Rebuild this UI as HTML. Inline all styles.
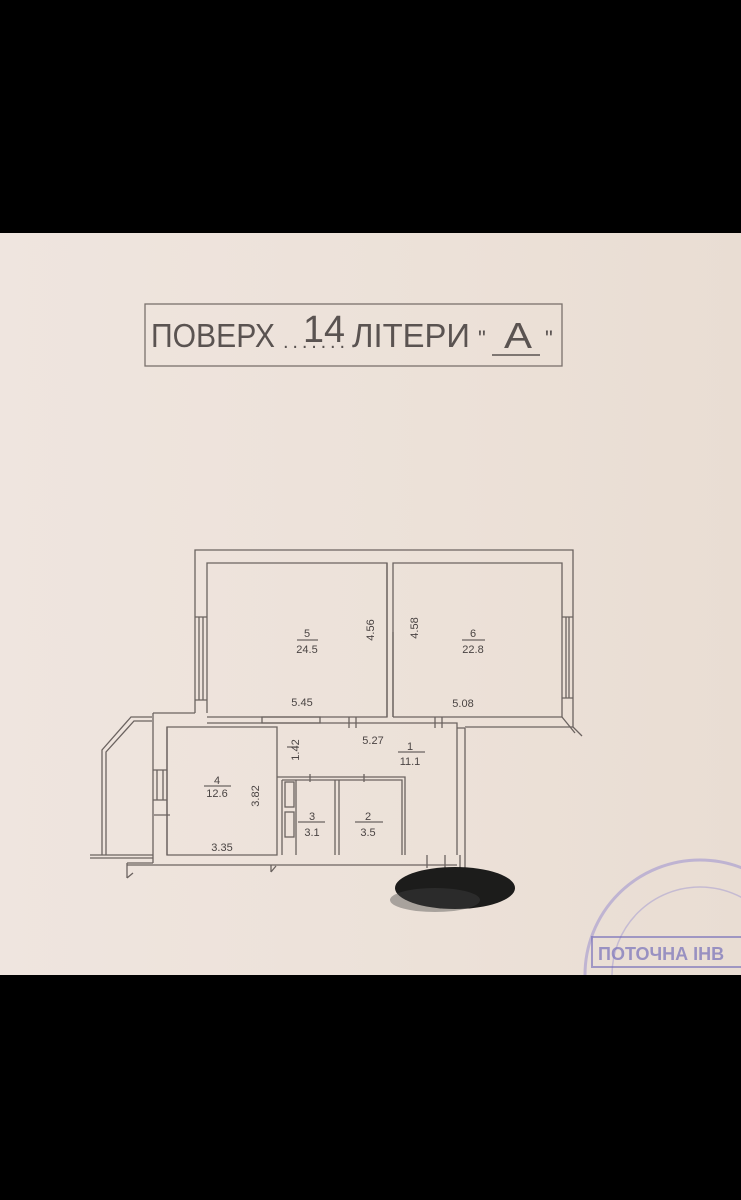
<!DOCTYPE html>
<html><head><meta charset="utf-8"><style>
html,body{margin:0;padding:0;background:#000;}
body{width:741px;height:1200px;position:relative;overflow:hidden;font-family:"Liberation Sans",sans-serif;}
#paper{position:absolute;left:0;top:233px;width:741px;height:742px;background:linear-gradient(90deg,#efe5df,#ece1d8 60%,#e9ddd3);}
svg{position:absolute;left:0;top:0;}
</style></head><body>
<div id="paper"></div>
<svg width="741" height="1200" viewBox="0 0 741 1200">
<g fill="none" stroke="#6b6360" stroke-width="1.3">
<rect x="145" y="304" width="417" height="62" stroke="#7a716c"/>
<path d="M195 713 V550 H573 V727 L582 736"/>
<path d="M207 713 V563 H387 V717 H207"/>
<path d="M393 717 V563 H562 V717 H393"/>
<path d="M387 563 V717 M393 632 V717"/>
<path d="M207 723 H457 V855 M167 727 H277 V855 H167 Z"/>
<path d="M465 728 V868 M457 728 H465 M573 727 H465"/>
<path d="M562 717 L575 733"/>
<path d="M153 713 H195 M153 713 V863 M127 865 H457 M127 863 V878 M127 878 L133 873 M153 863 H127"/>
<path d="M167 727 V855"/>
<path d="M152 717 H131 L102 750 V855 M152 721 H134 L106 752 V855 M90 855 H153 M90 858 H153"/>
<path d="M277 777 H405 V855 M282 780 H402 V855 M282 780 V855"/>
<path d="M296 780 V855 M335 780 V855 M339 780 V855"/>
<rect x="285" y="782" width="9" height="25"/><rect x="285" y="812" width="9" height="25"/>
<path d="M195 617 H207 M195 700 H207 M199 617 V700 M203 617 V700"/>
<path d="M562 617 H573 M562 698 H573 M566 617 V698 M569 617 V698"/>
<path d="M153 770 H167 M153 800 H167 M157 770 V800 M163 770 V800"/>
<path d="M262 717 H320 V723 H262 Z"/>
<path d="M349 717 V728 M356 717 V728 M435 717 V728 M442 717 V728 M287 747 H298 M310 774 V782 M364 774 V782 M154 815 H170"/>
<path d="M271 865 V872 M271 872 L276 866 M427 855 V868 M445 855 V868 M460 855 V868"/>
</g>
<g font-family="Liberation Sans, sans-serif" fill="#4a4443" font-size="11" text-anchor="middle">
<text x="307" y="637">5</text><line x1="297" y1="640" x2="318" y2="640" stroke="#4a4443"/><text x="307" y="653">24.5</text>
<text x="473" y="637">6</text><line x1="462" y1="640" x2="485" y2="640" stroke="#4a4443"/><text x="473" y="653">22.8</text>
<text x="302" y="706">5.45</text><text x="463" y="707">5.08</text>
<text x="373" y="744">5.27</text>
<text x="410" y="750">1</text><line x1="398" y1="752" x2="425" y2="752" stroke="#4a4443"/><text x="410" y="765">11.1</text>
<text x="217" y="784">4</text><line x1="204" y1="786" x2="231" y2="786" stroke="#4a4443"/><text x="217" y="797">12.6</text>
<text x="312" y="820">3</text><line x1="298" y1="822" x2="325" y2="822" stroke="#4a4443"/><text x="312" y="836">3.1</text>
<text x="368" y="820">2</text><line x1="355" y1="822" x2="383" y2="822" stroke="#4a4443"/><text x="368" y="836">3.5</text>
<text x="222" y="851">3.35</text>
<text transform="translate(374,630) rotate(-90)">4.56</text>
<text transform="translate(418,628) rotate(-90)">4.58</text>
<text transform="translate(299,750) rotate(-90)">1.42</text>
<text transform="translate(259,796) rotate(-90)">3.82</text>
</g>
<g font-family="Liberation Sans, sans-serif" fill="#5a5351">
<text x="151" y="347" font-size="33" textLength="124" lengthAdjust="spacingAndGlyphs">ПОВЕРХ</text>
<text x="283" y="348" font-size="20" textLength="62" lengthAdjust="spacing">.......</text>
<text x="303" y="342" font-size="38" textLength="42" lengthAdjust="spacingAndGlyphs">14</text>
<text x="352" y="347" font-size="33" textLength="118" lengthAdjust="spacingAndGlyphs">ЛІТЕРИ</text>
<text x="478" y="346" font-size="22">"</text>
<text x="504" y="348" font-size="36" textLength="28" lengthAdjust="spacingAndGlyphs">А</text>
<text x="545" y="346" font-size="22">"</text>
</g>
<line x1="492" y1="355" x2="540" y2="355" stroke="#5a5351" stroke-width="1.5"/>
<ellipse cx="455" cy="888" rx="60" ry="21" fill="#111" opacity="0.95"/>
<ellipse cx="435" cy="900" rx="45" ry="12" fill="#444" opacity="0.4"/>
<circle cx="700" cy="975" r="115" fill="none" stroke="#9a90d0" stroke-width="3" opacity="0.55"/>
<circle cx="700" cy="975" r="88" fill="none" stroke="#9a90d0" stroke-width="1.5" opacity="0.45"/>
<rect x="592" y="937" width="160" height="30" fill="none" stroke="#6e68b8" stroke-width="2" opacity="0.6"/>
<text x="598" y="960" font-family="Liberation Sans, sans-serif" font-size="18" font-weight="bold" fill="#6e68b8" opacity="0.65">ПОТОЧНА ІНВ</text>
<rect x="0" y="975" width="741" height="225" fill="#000"/>
</svg>
</body></html>
